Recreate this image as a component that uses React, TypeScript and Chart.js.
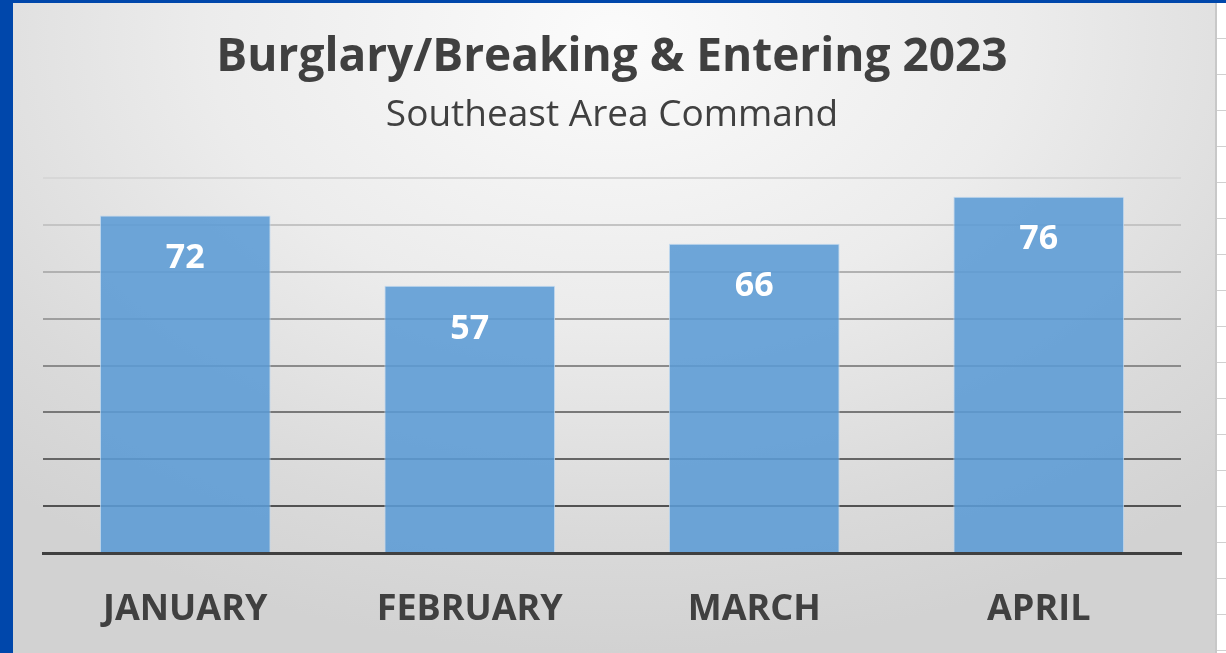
import React, { useEffect, useRef } from "react";
import { Chart, registerables } from "chart.js";

Chart.register(...registerables);

const months = ["JANUARY", "FEBRUARY", "MARCH", "APRIL"];
const incidents = [72, 57, 66, 76];
const titleText = "Burglary/Breaking & Entering 2023";
const subtitleText = "Southeast Area Command";
const yMax = 80;
const yStep = 10;

const FONT = "'Open Sans', 'Liberation Sans', sans-serif";

const valueLabels = {
  id: "valueLabels",
  afterDatasetsDraw(chart: any) {
    const ctx = chart.ctx;
    const meta = chart.getDatasetMeta(0);
    ctx.save();
    ctx.fillStyle = "#ffffff";
    ctx.font = `bold 34px ${FONT}`;
    ctx.textAlign = "center";
    ctx.textBaseline = "middle";
    meta.data.forEach((bar: any, i: number) => {
      ctx.fillText(String(chart.data.datasets[0].data[i]), bar.x, bar.y + 43);
    });
    ctx.restore();
  },
};

export default function App() {
  const ref = useRef<HTMLCanvasElement>(null);
  useEffect(() => {
    document.body.style.margin = "0";
    const chart = new Chart(ref.current!, {
      type: "bar",
      data: {
        labels: months,
        datasets: [
          {
            data: incidents,
            backgroundColor: "rgba(91,155,213,0.88)",
            borderColor: "rgba(190,215,240,0.9)",
            borderWidth: 1,
            barPercentage: 0.6,
            categoryPercentage: 1,
          },
        ],
      },
      options: {
        animation: false,
        responsive: false,
        maintainAspectRatio: false,
        layout: { padding: { left: 30, right: 34, top: 0, bottom: 0 } },
        plugins: {
          legend: { display: false },
          tooltip: { enabled: false },
          title: {
            display: true,
            text: titleText,
            color: "#404040",
            font: { family: FONT, size: 46, weight: "bold", lineHeight: 1.2 },
            padding: { top: 27, bottom: 8 },
          },
          subtitle: {
            display: true,
            text: subtitleText,
            color: "#404040",
            font: { family: FONT, size: 37, weight: "normal", lineHeight: 1.2 },
            padding: { top: 0, bottom: 40.4 },
          },
        },
        scales: {
          x: {
            grid: { display: false, drawTicks: false },
            border: { display: true, color: "#404040", width: 3 },
            ticks: {
              color: "#404040",
              font: { family: FONT, size: 36, weight: "bold", lineHeight: 1.2 },
              padding: 35,
            },
            afterFit: (s: any) => {
              s.height = 100;
            },
          },
          y: {
            min: 0,
            max: yMax,
            ticks: { display: false, stepSize: yStep },
            border: { display: false },
            grid: {
              drawTicks: false,
              lineWidth: 2,
              color: (c: any) => {
                const v = c.tick ? c.tick.value : 0;
                if (v === 0) return "rgba(0,0,0,0)";
                const shade = Math.round(215 - (80 - v) * 1.9);
                return `rgb(${shade},${shade},${shade})`;
              },
            },
            afterFit: (s: any) => {
              s.width = 0;
            },
          },
        },
      },
      plugins: [valueLabels],
    });
    return () => chart.destroy();
  }, []);

  return (
    <div
      style={{
        position: "relative",
        width: 1226,
        height: 653,
        background: "#0047ab",
        overflow: "hidden",
      }}
    >
      <div
        style={{
          position: "absolute",
          left: 13,
          top: 3,
          width: 1202,
          height: 650,
          background:
            "radial-gradient(ellipse 75% 95% at 50% 5%, #fbfbfb 0%, #ececec 45%, #dadada 80%, #d2d2d2 100%)",
        }}
      >
        <canvas ref={ref} width={1202} height={650} style={{ display: "block" }} />
      </div>
      <div
        style={{
          position: "absolute",
          left: 1215,
          top: 3,
          width: 11,
          height: 650,
          background:
            "repeating-linear-gradient(to bottom, #ffffff 0px, #ffffff 35px, #d0d0d0 35px, #d0d0d0 36px)",
          borderLeft: "2px solid #c8c8c8",
        }}
      />
    </div>
  );
}
